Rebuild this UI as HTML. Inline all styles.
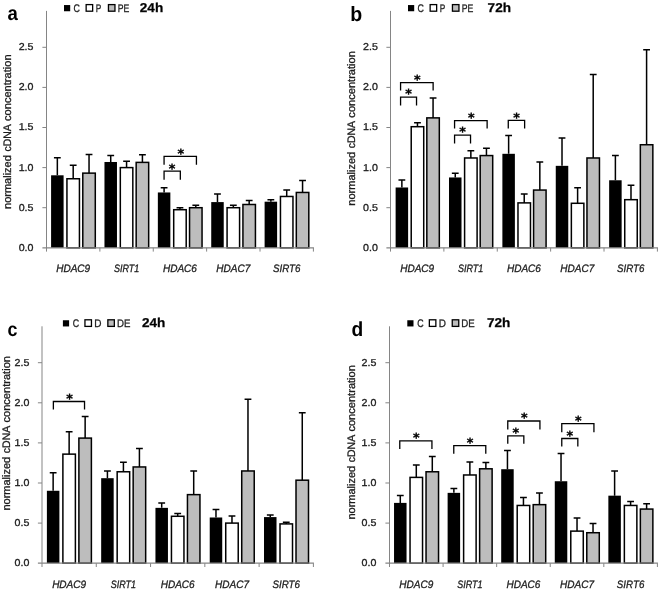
<!DOCTYPE html>
<html lang="en">
<head>
<meta charset="utf-8">
<title>Figure</title>
<style>
html,body{margin:0;padding:0;background:#fff;}
body{width:660px;height:590px;overflow:hidden;}
svg{display:block;}
text{font-family:"Liberation Sans","DejaVu Sans",sans-serif;fill:#1c1c1c;stroke:#1c1c1c;stroke-width:0.3px;text-rendering:geometricPrecision;}
.ax{stroke:#858585;stroke-width:1;fill:none;}
.axh{stroke:#858585;stroke-width:1.3;fill:none;}
.tk{font-size:10px;}
.yt{font-size:10.9px;}
.ct{font-size:10.75px;font-style:italic;}
.lg{font-size:11px;}
.tt{font-size:12.8px;font-weight:bold;fill:#000;}
.pl{stroke:none;font-weight:bold;fill:#000;}
.as{font-size:12.6px;font-weight:bold;fill:#000;stroke:#000;stroke-width:0.35px;font-family:"DejaVu Sans","Liberation Sans",sans-serif;}
.b0{fill:#000;stroke:none;}
.b1{fill:#fff;stroke:#000;stroke-width:1.5;}
.b2{fill:#bdbdbd;stroke:#000;stroke-width:1.5;}
.l0{fill:#000;stroke:none;}
.l1{fill:#fff;stroke:#000;stroke-width:1.3;}
.l2{fill:#bdbdbd;stroke:#000;stroke-width:1.3;}
.eb{stroke:#000;stroke-width:1.5;fill:none;}
.br{stroke:#000;stroke-width:1.3;fill:none;}
</style>
</head>
<body>
<svg width="660" height="590" viewBox="0 0 660 590">
<rect width="660" height="590" fill="#fff"/>
<g id="panel-a">
<rect class="b0" x="51.09" y="175.3" width="12.5" height="72.5"/>
<path class="eb" d="M57.34 175.3V157.66M53.94 157.66H60.74"/>
<rect class="b1" x="66.94" y="178.75" width="12.5" height="69.05"/>
<path class="eb" d="M73.19 178.75V165.19M69.79 165.19H76.59"/>
<rect class="b2" x="82.79" y="173.13" width="12.5" height="74.67"/>
<path class="eb" d="M89.04 173.13V154.45M85.64 154.45H92.44"/>
<rect class="b0" x="104.47" y="161.99" width="12.5" height="85.81"/>
<path class="eb" d="M110.72 161.99V155.57M107.32 155.57H114.12"/>
<rect class="b1" x="120.32" y="167.6" width="12.5" height="80.2"/>
<path class="eb" d="M126.57 167.6V161.18M123.17 161.18H129.97"/>
<rect class="b2" x="136.17" y="162.39" width="12.5" height="85.41"/>
<path class="eb" d="M142.42 162.39V154.77M139.02 154.77H145.82"/>
<rect class="b0" x="157.85" y="192.46" width="12.5" height="55.34"/>
<path class="eb" d="M164.1 192.46V187.65M160.7 187.65H167.5"/>
<rect class="b1" x="173.7" y="209.71" width="12.5" height="38.09"/>
<path class="eb" d="M179.95 209.71V207.7M176.55 207.7H183.35"/>
<rect class="b2" x="189.55" y="207.7" width="12.5" height="40.1"/>
<path class="eb" d="M195.8 207.7V205.29M192.4 205.29H199.2"/>
<rect class="b0" x="211.23" y="202.09" width="12.5" height="45.71"/>
<path class="eb" d="M217.48 202.09V194.07M214.08 194.07H220.88"/>
<rect class="b1" x="227.08" y="207.7" width="12.5" height="40.1"/>
<path class="eb" d="M233.33 207.7V205.29M229.93 205.29H236.73"/>
<rect class="b2" x="242.93" y="204.49" width="12.5" height="43.31"/>
<path class="eb" d="M249.18 204.49V200.48M245.78 200.48H252.58"/>
<rect class="b0" x="264.61" y="201.69" width="12.5" height="46.12"/>
<path class="eb" d="M270.86 201.69V199.68M267.46 199.68H274.26"/>
<rect class="b1" x="280.46" y="196.47" width="12.5" height="51.33"/>
<path class="eb" d="M286.71 196.47V190.06M283.31 190.06H290.11"/>
<rect class="b2" x="296.31" y="192.46" width="12.5" height="55.34"/>
<path class="eb" d="M302.56 192.46V180.43M299.16 180.43H305.96"/>
<path d="M46.5 10.9V251.6" class="ax"/>
<path d="M42.4 247.8H313.9" class="axh"/>
<path d="M42.4 207.7H46.5M42.4 167.6H46.5M42.4 127.5H46.5M42.4 87.4H46.5M42.4 47.3H46.5M99.88 247.8V251.6M153.26 247.8V251.6M206.64 247.8V251.6M260.02 247.8V251.6M313.4 247.8V251.6" class="ax"/>
<text class="tk" x="33.5" y="250.7" text-anchor="end" textLength="14.8" lengthAdjust="spacingAndGlyphs">0.0</text>
<text class="tk" x="33.5" y="210.6" text-anchor="end" textLength="14.8" lengthAdjust="spacingAndGlyphs">0.5</text>
<text class="tk" x="33.5" y="170.5" text-anchor="end" textLength="14.8" lengthAdjust="spacingAndGlyphs">1.0</text>
<text class="tk" x="33.5" y="130.4" text-anchor="end" textLength="14.8" lengthAdjust="spacingAndGlyphs">1.5</text>
<text class="tk" x="33.5" y="90.3" text-anchor="end" textLength="14.8" lengthAdjust="spacingAndGlyphs">2.0</text>
<text class="tk" x="33.5" y="50.2" text-anchor="end" textLength="14.8" lengthAdjust="spacingAndGlyphs">2.5</text>
<text class="yt" transform="translate(10.6 208.45) rotate(-90)"><tspan x="-0.5" textLength="53.8" lengthAdjust="spacingAndGlyphs">normalized</tspan> <tspan x="56.9" textLength="26.8" lengthAdjust="spacingAndGlyphs">cDNA</tspan> <tspan x="87.5" textLength="66.5" lengthAdjust="spacingAndGlyphs">concentration</tspan></text>
<text class="ct" x="73.19" y="272.2" text-anchor="middle" textLength="34.0" lengthAdjust="spacingAndGlyphs">HDAC9</text>
<text class="ct" x="126.57" y="272.2" text-anchor="middle" textLength="25.3" lengthAdjust="spacingAndGlyphs">SIRT1</text>
<text class="ct" x="179.95" y="272.2" text-anchor="middle" textLength="34.0" lengthAdjust="spacingAndGlyphs">HDAC6</text>
<text class="ct" x="233.33" y="272.2" text-anchor="middle" textLength="34.0" lengthAdjust="spacingAndGlyphs">HDAC7</text>
<text class="ct" x="286.71" y="272.2" text-anchor="middle" textLength="27.5" lengthAdjust="spacingAndGlyphs">SIRT6</text>
<path class="br" d="M164.07 164.8V156.4H196.43V164.8"/>
<text class="as" x="180.9" y="158" text-anchor="middle">*</text>
<path class="br" d="M164.07 179.7V171.1H180.33V179.7"/>
<text class="as" x="172.1" y="172.7" text-anchor="middle">*</text>
<rect class="l0" x="64" y="5.05" width="6.2" height="6.2"/>
<text class="lg" x="73.45" y="11.8" textLength="6.4" lengthAdjust="spacingAndGlyphs">C</text>
<rect class="l1" x="86.15" y="4.6" width="6.5" height="6.6"/>
<text class="lg" x="95.65" y="11.8" textLength="5.5" lengthAdjust="spacingAndGlyphs">P</text>
<rect class="l2" x="108.45" y="4.6" width="6.5" height="6.6"/>
<text class="lg" x="117.65" y="11.8" textLength="11.6" lengthAdjust="spacingAndGlyphs">PE</text>
<text class="tt" x="139.8" y="12" textLength="23.4" lengthAdjust="spacingAndGlyphs">24h</text>
<text class="pl" font-size="20.2" transform="translate(7.5 20.4) scale(0.92 1)">a</text>
</g>
<g id="panel-b">
<rect class="b0" x="395.62" y="187.49" width="12.5" height="60.31"/>
<path class="eb" d="M401.87 187.49V180.03M398.47 180.03H405.27"/>
<rect class="b1" x="411.22" y="126.7" width="12.5" height="121.1"/>
<path class="eb" d="M417.47 126.7V122.69M414.07 122.69H420.87"/>
<rect class="b2" x="426.82" y="117.88" width="12.5" height="129.92"/>
<path class="eb" d="M433.07 117.88V97.99M429.67 97.99H436.47"/>
<rect class="b0" x="449" y="177.46" width="12.5" height="70.34"/>
<path class="eb" d="M455.25 177.46V173.21M451.85 173.21H458.65"/>
<rect class="b1" x="464.6" y="157.98" width="12.5" height="89.82"/>
<path class="eb" d="M470.85 157.98V150.84M467.45 150.84H474.25"/>
<rect class="b2" x="480.2" y="155.57" width="12.5" height="92.23"/>
<path class="eb" d="M486.45 155.57V148.27M483.05 148.27H489.85"/>
<rect class="b0" x="502.38" y="153.81" width="12.5" height="93.99"/>
<path class="eb" d="M508.63 153.81V135.4M505.23 135.4H512.03"/>
<rect class="b1" x="517.98" y="202.89" width="12.5" height="44.91"/>
<path class="eb" d="M524.23 202.89V194.07M520.83 194.07H527.63"/>
<rect class="b2" x="533.58" y="190.06" width="12.5" height="57.74"/>
<path class="eb" d="M539.83 190.06V161.99M536.43 161.99H543.23"/>
<rect class="b0" x="555.76" y="165.84" width="12.5" height="81.96"/>
<path class="eb" d="M562.01 165.84V137.93M558.61 137.93H565.41"/>
<rect class="b1" x="571.36" y="203.29" width="12.5" height="44.51"/>
<path class="eb" d="M577.61 203.29V187.65M574.21 187.65H581.01"/>
<rect class="b2" x="586.96" y="157.98" width="12.5" height="89.82"/>
<path class="eb" d="M593.21 157.98V74.57M589.81 74.57H596.61"/>
<rect class="b0" x="609.14" y="180.27" width="12.5" height="67.53"/>
<path class="eb" d="M615.39 180.27V155.57M611.99 155.57H618.79"/>
<rect class="b1" x="624.74" y="199.68" width="12.5" height="48.12"/>
<path class="eb" d="M630.99 199.68V185.24M627.59 185.24H634.39"/>
<rect class="b2" x="640.34" y="144.74" width="12.5" height="103.06"/>
<path class="eb" d="M646.59 144.74V49.71M643.19 49.71H649.99"/>
<path d="M390.5 10.9V251.6" class="ax"/>
<path d="M386.4 247.8H657.9" class="axh"/>
<path d="M386.4 207.7H390.5M386.4 167.6H390.5M386.4 127.5H390.5M386.4 87.4H390.5M386.4 47.3H390.5M443.88 247.8V251.6M497.26 247.8V251.6M550.64 247.8V251.6M604.02 247.8V251.6M657.4 247.8V251.6" class="ax"/>
<text class="tk" x="377.9" y="250.7" text-anchor="end" textLength="14.8" lengthAdjust="spacingAndGlyphs">0.0</text>
<text class="tk" x="377.9" y="210.6" text-anchor="end" textLength="14.8" lengthAdjust="spacingAndGlyphs">0.5</text>
<text class="tk" x="377.9" y="170.5" text-anchor="end" textLength="14.8" lengthAdjust="spacingAndGlyphs">1.0</text>
<text class="tk" x="377.9" y="130.4" text-anchor="end" textLength="14.8" lengthAdjust="spacingAndGlyphs">1.5</text>
<text class="tk" x="377.9" y="90.3" text-anchor="end" textLength="14.8" lengthAdjust="spacingAndGlyphs">2.0</text>
<text class="tk" x="377.9" y="50.2" text-anchor="end" textLength="14.8" lengthAdjust="spacingAndGlyphs">2.5</text>
<text class="yt" transform="translate(354.9 205.15) rotate(-90)"><tspan x="-0.5" textLength="53.8" lengthAdjust="spacingAndGlyphs">normalized</tspan> <tspan x="56.9" textLength="26.8" lengthAdjust="spacingAndGlyphs">cDNA</tspan> <tspan x="87.5" textLength="66.5" lengthAdjust="spacingAndGlyphs">concentration</tspan></text>
<text class="ct" x="417.19" y="272.2" text-anchor="middle" textLength="34.0" lengthAdjust="spacingAndGlyphs">HDAC9</text>
<text class="ct" x="470.57" y="272.2" text-anchor="middle" textLength="25.3" lengthAdjust="spacingAndGlyphs">SIRT1</text>
<text class="ct" x="523.95" y="272.2" text-anchor="middle" textLength="34.0" lengthAdjust="spacingAndGlyphs">HDAC6</text>
<text class="ct" x="577.33" y="272.2" text-anchor="middle" textLength="34.0" lengthAdjust="spacingAndGlyphs">HDAC7</text>
<text class="ct" x="630.71" y="272.2" text-anchor="middle" textLength="27.5" lengthAdjust="spacingAndGlyphs">SIRT6</text>
<path class="br" d="M400.57 90.6V82.6H433.13V90.6"/>
<text class="as" x="417.3" y="83.6" text-anchor="middle">*</text>
<path class="br" d="M400.57 105.5V97.2H416.53V105.5"/>
<text class="as" x="408.5" y="98.4" text-anchor="middle">*</text>
<path class="br" d="M454.57 128.6V120.6H487.13V128.6"/>
<text class="as" x="471.3" y="121.6" text-anchor="middle">*</text>
<path class="br" d="M454.57 143.5V135.2H470.53V143.5"/>
<text class="as" x="462.5" y="136.4" text-anchor="middle">*</text>
<path class="br" d="M508.27 128.6V120.4H524.63V128.6"/>
<text class="as" x="516.5" y="121.6" text-anchor="middle">*</text>
<rect class="l0" x="408" y="5.05" width="6.2" height="6.2"/>
<text class="lg" x="417.45" y="11.8" textLength="6.4" lengthAdjust="spacingAndGlyphs">C</text>
<rect class="l1" x="430.15" y="4.6" width="6.5" height="6.6"/>
<text class="lg" x="439.65" y="11.8" textLength="5.5" lengthAdjust="spacingAndGlyphs">P</text>
<rect class="l2" x="452.45" y="4.6" width="6.5" height="6.6"/>
<text class="lg" x="461.65" y="11.8" textLength="11.6" lengthAdjust="spacingAndGlyphs">PE</text>
<text class="tt" x="487.6" y="12" textLength="23.4" lengthAdjust="spacingAndGlyphs">72h</text>
<text class="pl" font-size="20.6" transform="translate(350.2 20.9) scale(0.95 1)">b</text>
</g>
<g id="panel-c">
<rect class="b0" x="46.89" y="490.78" width="12.5" height="72.42"/>
<path class="eb" d="M53.14 490.78V472.73M49.74 472.73H56.54"/>
<rect class="b1" x="62.89" y="454.13" width="12.5" height="109.07"/>
<path class="eb" d="M69.14 454.13V431.67M65.74 431.67H72.54"/>
<rect class="b2" x="78.89" y="438.09" width="12.5" height="125.11"/>
<path class="eb" d="M85.14 438.09V416.51M81.74 416.51H88.54"/>
<rect class="b0" x="101.17" y="478.19" width="12.5" height="85.01"/>
<path class="eb" d="M107.42 478.19V470.97M104.02 470.97H110.82"/>
<rect class="b1" x="117.17" y="471.77" width="12.5" height="91.43"/>
<path class="eb" d="M123.42 471.77V462.15M120.02 462.15H126.82"/>
<rect class="b2" x="133.17" y="466.96" width="12.5" height="96.24"/>
<path class="eb" d="M139.42 466.96V448.51M136.02 448.51H142.82"/>
<rect class="b0" x="155.45" y="507.86" width="12.5" height="55.34"/>
<path class="eb" d="M161.7 507.86V503.05M158.3 503.05H165.1"/>
<rect class="b1" x="171.45" y="516.28" width="12.5" height="46.92"/>
<path class="eb" d="M177.7 516.28V513.48M174.3 513.48H181.1"/>
<rect class="b2" x="187.45" y="494.63" width="12.5" height="68.57"/>
<path class="eb" d="M193.7 494.63V470.97M190.3 470.97H197.1"/>
<rect class="b0" x="209.73" y="517.49" width="12.5" height="45.71"/>
<path class="eb" d="M215.98 517.49V509.47M212.58 509.47H219.38"/>
<rect class="b1" x="225.73" y="523.1" width="12.5" height="40.1"/>
<path class="eb" d="M231.98 523.1V515.88M228.58 515.88H235.38"/>
<rect class="b2" x="241.73" y="470.97" width="12.5" height="92.23"/>
<path class="eb" d="M247.98 470.97V399.19M244.58 399.19H251.38"/>
<rect class="b0" x="264.01" y="517.09" width="12.5" height="46.12"/>
<path class="eb" d="M270.26 517.09V515.08M266.86 515.08H273.66"/>
<rect class="b1" x="280.01" y="523.9" width="12.5" height="39.3"/>
<path class="eb" d="M286.26 523.9V522.3M282.86 522.3H289.66"/>
<rect class="b2" x="296.01" y="480.19" width="12.5" height="83.01"/>
<path class="eb" d="M302.26 480.19V412.83M298.86 412.83H305.66"/>
<path d="M42 326.3V567" class="ax"/>
<path d="M37.9 563.2H313.9" class="axh"/>
<path d="M37.9 523.1H42M37.9 483H42M37.9 442.9H42M37.9 402.8H42M37.9 362.7H42M96.28 563.2V567M150.56 563.2V567M204.84 563.2V567M259.12 563.2V567M313.4 563.2V567" class="ax"/>
<text class="tk" x="29.3" y="566.1" text-anchor="end" textLength="14.8" lengthAdjust="spacingAndGlyphs">0.0</text>
<text class="tk" x="29.3" y="526" text-anchor="end" textLength="14.8" lengthAdjust="spacingAndGlyphs">0.5</text>
<text class="tk" x="29.3" y="485.9" text-anchor="end" textLength="14.8" lengthAdjust="spacingAndGlyphs">1.0</text>
<text class="tk" x="29.3" y="445.8" text-anchor="end" textLength="14.8" lengthAdjust="spacingAndGlyphs">1.5</text>
<text class="tk" x="29.3" y="405.7" text-anchor="end" textLength="14.8" lengthAdjust="spacingAndGlyphs">2.0</text>
<text class="tk" x="29.3" y="365.6" text-anchor="end" textLength="14.8" lengthAdjust="spacingAndGlyphs">2.5</text>
<text class="yt" transform="translate(10.3 510.05) rotate(-90)"><tspan x="-0.5" textLength="53.8" lengthAdjust="spacingAndGlyphs">normalized</tspan> <tspan x="56.9" textLength="26.8" lengthAdjust="spacingAndGlyphs">cDNA</tspan> <tspan x="87.5" textLength="66.5" lengthAdjust="spacingAndGlyphs">concentration</tspan></text>
<text class="ct" x="69.14" y="587.6" text-anchor="middle" textLength="34.0" lengthAdjust="spacingAndGlyphs">HDAC9</text>
<text class="ct" x="123.42" y="587.6" text-anchor="middle" textLength="25.3" lengthAdjust="spacingAndGlyphs">SIRT1</text>
<text class="ct" x="177.7" y="587.6" text-anchor="middle" textLength="34.0" lengthAdjust="spacingAndGlyphs">HDAC6</text>
<text class="ct" x="231.98" y="587.6" text-anchor="middle" textLength="34.0" lengthAdjust="spacingAndGlyphs">HDAC7</text>
<text class="ct" x="286.26" y="587.6" text-anchor="middle" textLength="27.5" lengthAdjust="spacingAndGlyphs">SIRT6</text>
<path class="br" d="M53.37 409.6V401.5H84.53V409.6"/>
<text class="as" x="69.5" y="402.6" text-anchor="middle">*</text>
<rect class="l0" x="62.9" y="320.25" width="6.2" height="6.2"/>
<text class="lg" x="72.75" y="326.95" textLength="6.4" lengthAdjust="spacingAndGlyphs">C</text>
<rect class="l1" x="84.95" y="319.8" width="6.5" height="6.6"/>
<text class="lg" x="94.25" y="326.95" textLength="7.2" lengthAdjust="spacingAndGlyphs">D</text>
<rect class="l2" x="107.85" y="319.8" width="6.5" height="6.6"/>
<text class="lg" x="116.95" y="326.95" textLength="13.4" lengthAdjust="spacingAndGlyphs">DE</text>
<text class="tt" x="141.9" y="327.3" textLength="23.4" lengthAdjust="spacingAndGlyphs">24h</text>
<text class="pl" font-size="19.6" transform="translate(7.6 336) scale(0.91 1)">c</text>
</g>
<g id="panel-d">
<rect class="b0" x="394.04" y="502.89" width="12.5" height="60.31"/>
<path class="eb" d="M400.29 502.89V495.43M396.89 495.43H403.69"/>
<rect class="b1" x="410.04" y="477.39" width="12.5" height="85.81"/>
<path class="eb" d="M416.29 477.39V464.9M412.89 464.9H419.69"/>
<rect class="b2" x="426.04" y="471.77" width="12.5" height="91.43"/>
<path class="eb" d="M432.29 471.77V456.45M428.89 456.45H435.69"/>
<rect class="b0" x="447.62" y="492.86" width="12.5" height="70.34"/>
<path class="eb" d="M453.87 492.86V488.61M450.47 488.61H457.27"/>
<rect class="b1" x="463.62" y="474.98" width="12.5" height="88.22"/>
<path class="eb" d="M469.87 474.98V461.99M466.47 461.99H473.27"/>
<rect class="b2" x="479.62" y="468.8" width="12.5" height="94.4"/>
<path class="eb" d="M485.87 468.8V462.39M482.47 462.39H489.27"/>
<rect class="b0" x="501.2" y="469.21" width="12.5" height="93.99"/>
<path class="eb" d="M507.45 469.21V450.6M504.05 450.6H510.85"/>
<rect class="b1" x="517.2" y="505.46" width="12.5" height="57.74"/>
<path class="eb" d="M523.45 505.46V497.44M520.05 497.44H526.85"/>
<rect class="b2" x="533.2" y="504.65" width="12.5" height="58.55"/>
<path class="eb" d="M539.45 504.65V493.03M536.05 493.03H542.85"/>
<rect class="b0" x="554.78" y="481.24" width="12.5" height="81.96"/>
<path class="eb" d="M561.03 481.24V453.49M557.63 453.49H564.43"/>
<rect class="b1" x="570.78" y="531.12" width="12.5" height="32.08"/>
<path class="eb" d="M577.03 531.12V517.89M573.63 517.89H580.43"/>
<rect class="b2" x="586.78" y="532.72" width="12.5" height="30.48"/>
<path class="eb" d="M593.03 532.72V523.5M589.63 523.5H596.43"/>
<rect class="b0" x="608.36" y="495.67" width="12.5" height="67.53"/>
<path class="eb" d="M614.61 495.67V470.97M611.21 470.97H618.01"/>
<rect class="b1" x="624.36" y="505.46" width="12.5" height="57.74"/>
<path class="eb" d="M630.61 505.46V501.45M627.21 501.45H634.01"/>
<rect class="b2" x="640.36" y="509.07" width="12.5" height="54.13"/>
<path class="eb" d="M646.61 509.07V503.85M643.21 503.85H650.01"/>
<path d="M389.5 326.3V567" class="ax"/>
<path d="M385.4 563.2H657.9" class="axh"/>
<path d="M385.4 523.1H389.5M385.4 483H389.5M385.4 442.9H389.5M385.4 402.8H389.5M385.4 362.7H389.5M443.08 563.2V567M496.66 563.2V567M550.24 563.2V567M603.82 563.2V567M657.4 563.2V567" class="ax"/>
<text class="tk" x="376.4" y="566.1" text-anchor="end" textLength="14.8" lengthAdjust="spacingAndGlyphs">0.0</text>
<text class="tk" x="376.4" y="526" text-anchor="end" textLength="14.8" lengthAdjust="spacingAndGlyphs">0.5</text>
<text class="tk" x="376.4" y="485.9" text-anchor="end" textLength="14.8" lengthAdjust="spacingAndGlyphs">1.0</text>
<text class="tk" x="376.4" y="445.8" text-anchor="end" textLength="14.8" lengthAdjust="spacingAndGlyphs">1.5</text>
<text class="tk" x="376.4" y="405.7" text-anchor="end" textLength="14.8" lengthAdjust="spacingAndGlyphs">2.0</text>
<text class="tk" x="376.4" y="365.6" text-anchor="end" textLength="14.8" lengthAdjust="spacingAndGlyphs">2.5</text>
<text class="yt" transform="translate(354.9 519.1) rotate(-90)"><tspan x="-0.5" textLength="53.8" lengthAdjust="spacingAndGlyphs">normalized</tspan> <tspan x="56.9" textLength="26.8" lengthAdjust="spacingAndGlyphs">cDNA</tspan> <tspan x="87.5" textLength="66.5" lengthAdjust="spacingAndGlyphs">concentration</tspan></text>
<text class="ct" x="416.29" y="587.6" text-anchor="middle" textLength="34.0" lengthAdjust="spacingAndGlyphs">HDAC9</text>
<text class="ct" x="469.87" y="587.6" text-anchor="middle" textLength="25.3" lengthAdjust="spacingAndGlyphs">SIRT1</text>
<text class="ct" x="523.45" y="587.6" text-anchor="middle" textLength="34.0" lengthAdjust="spacingAndGlyphs">HDAC6</text>
<text class="ct" x="577.03" y="587.6" text-anchor="middle" textLength="34.0" lengthAdjust="spacingAndGlyphs">HDAC7</text>
<text class="ct" x="630.61" y="587.6" text-anchor="middle" textLength="27.5" lengthAdjust="spacingAndGlyphs">SIRT6</text>
<path class="br" d="M399.77 449V440.8H431.93V449"/>
<text class="as" x="416.4" y="442.1" text-anchor="middle">*</text>
<path class="br" d="M453.77 453.7V445.6H485.78V453.7"/>
<text class="as" x="470.1" y="446.6" text-anchor="middle">*</text>
<path class="br" d="M507.77 429.5V421H539.93V429.5"/>
<text class="as" x="524.4" y="422.1" text-anchor="middle">*</text>
<path class="br" d="M507.77 443.8V435.8H523.83V443.8"/>
<text class="as" x="515.8" y="436.6" text-anchor="middle">*</text>
<path class="br" d="M561.77 432.2V423.7H593.93V432.2"/>
<text class="as" x="578.4" y="424.8" text-anchor="middle">*</text>
<path class="br" d="M561.77 446.5V438.5H577.83V446.5"/>
<text class="as" x="569.8" y="439.6" text-anchor="middle">*</text>
<rect class="l0" x="407.3" y="320.25" width="6.2" height="6.2"/>
<text class="lg" x="417.15" y="326.95" textLength="6.4" lengthAdjust="spacingAndGlyphs">C</text>
<rect class="l1" x="429.35" y="319.8" width="6.5" height="6.6"/>
<text class="lg" x="438.65" y="326.95" textLength="7.2" lengthAdjust="spacingAndGlyphs">D</text>
<rect class="l2" x="452.25" y="319.8" width="6.5" height="6.6"/>
<text class="lg" x="461.35" y="326.95" textLength="13.4" lengthAdjust="spacingAndGlyphs">DE</text>
<text class="tt" x="486.9" y="327.3" textLength="23.4" lengthAdjust="spacingAndGlyphs">72h</text>
<text class="pl" font-size="20.4" transform="translate(351.5 336) scale(0.94 1)">d</text>
</g>
</svg>
</body>
</html>
